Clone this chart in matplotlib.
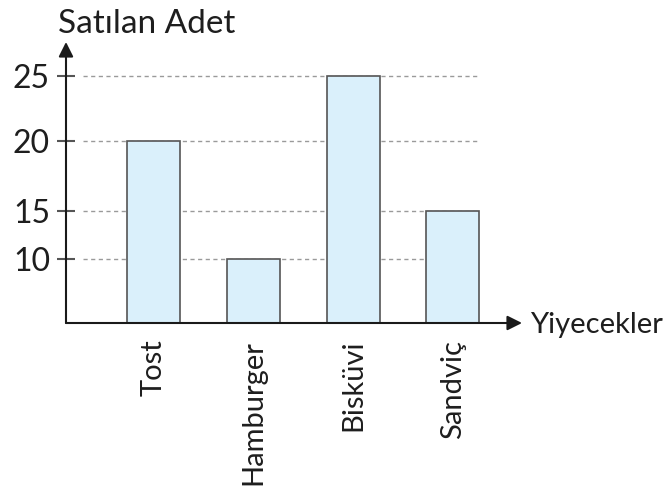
import numpy as np
import matplotlib.pyplot as plt

foods = ['Tost', 'Hamburger', 'Bisküvi', 'Sandviç']
counts = [20, 10, 25, 15]
yticks = [10, 15, 20, 25]

# the drawn axis is not evenly spaced, so map values to heights piecewise
scale_vals = [0, 10, 15, 20, 25, 30]
scale_px = [0, 64, 112, 182, 247, 281]

def fwd(v):
    return np.interp(v, scale_vals, scale_px)

def inv(p):
    return np.interp(p, scale_px, scale_vals)

plt.rcParams['font.family'] = ['Lato', 'DejaVu Sans']
txt = '#1e1e1e'
edge = '#555555'

fig = plt.figure(figsize=(6.64, 4.99), dpi=100)
ax = fig.add_axes([66 / 664, 1 - 323 / 499, 456 / 664, 281 / 499])
ax.set_yscale('function', functions=(fwd, inv))

x = np.arange(len(foods))
ax.bar(x, counts, width=0.53, color='#daf0fb', edgecolor=edge, linewidth=1.2, zorder=3)

ax.hlines(yticks, -0.71, 3.27, colors='#9a9a9a', linestyles=(0, (3, 2.5)), linewidth=1, zorder=1)

ax.set_xlim(-0.877, 3.692)
ax.set_ylim(0, 30)

for s in ax.spines.values():
    s.set_visible(False)

ax.annotate('', xy=(0, 1), xytext=(0, 0), xycoords='axes fraction',
            arrowprops=dict(arrowstyle='-|>', color='#1a1a1a', lw=1.5,
                            mutation_scale=22, shrinkA=0, shrinkB=0))
ax.annotate('', xy=(1, 0), xytext=(0, 0), xycoords='axes fraction',
            arrowprops=dict(arrowstyle='-|>', color='#1a1a1a', lw=1.5,
                            mutation_scale=22, shrinkA=0, shrinkB=0))

ax.set_yticks(yticks)
ax.set_yticklabels([str(t) for t in yticks], fontsize=23, color=txt)
ax.tick_params(axis='y', direction='inout', length=13, width=1.5, color=edge, pad=5)
ax.yaxis.set_minor_locator(plt.NullLocator())

ax.set_xticks(x)
ax.set_xticklabels(foods, rotation=90, fontsize=21, color=txt)
ax.tick_params(axis='x', length=0, pad=12)

fig.text(58 / 664, 1 - 33 / 499, 'Satılan Adet', fontsize=24, color=txt, va='baseline', ha='left')
fig.text(530 / 664, 1 - 325 / 499, 'Yiyecekler', fontsize=21, color=txt, va='center', ha='left')

fig.savefig('out.png', dpi=100)
